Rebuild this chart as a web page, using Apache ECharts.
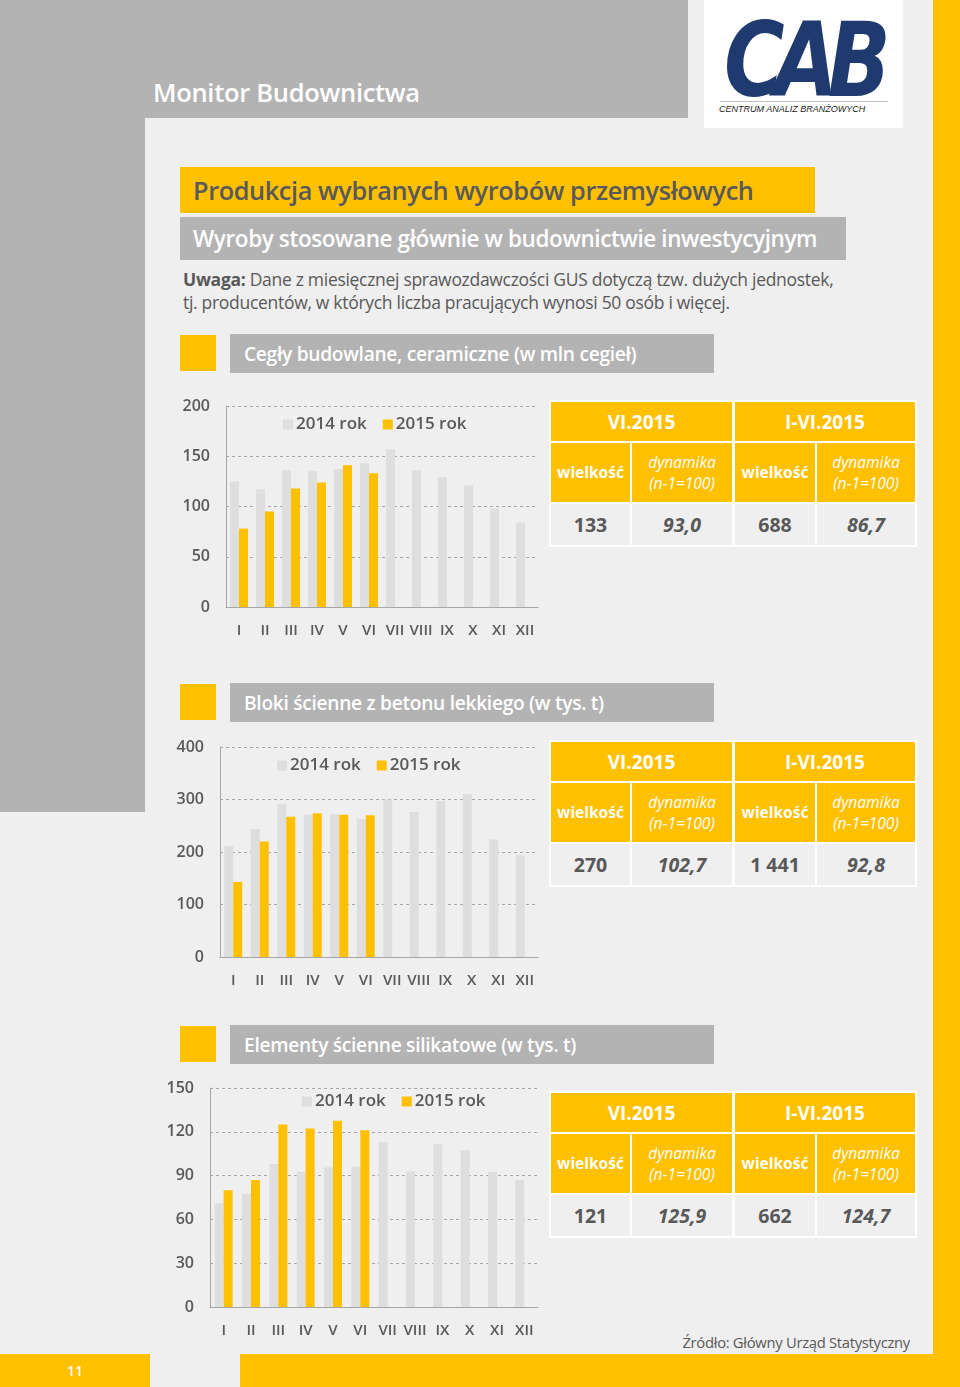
<!DOCTYPE html>
<html>
<head>
<meta charset="utf-8">
<script src="https://cdn.jsdelivr.net/npm/echarts@6/dist/echarts.min.js"></script>
<style>
  html, body { margin:0; padding:0; }
  body { width:960px; height:1387px; position:relative; background:#efefef; overflow:hidden;
         font-family:'Open Sans','Noto Sans',sans-serif; }
  .abs { position:absolute; }
  .cell { position:absolute; display:flex; align-items:center; justify-content:center; text-align:center; box-sizing:border-box; }
</style>
</head>
<body>
<div id="decor"></div>
<div id="chart" class="abs" style="left:0;top:0;width:960px;height:1387px;z-index:5;"></div>
<script>
// ---------- data ----------
const months = ['I','II','III','IV','V','VI','VII','VIII','IX','X','XI','XII'];
const seriesNames = ['2014 rok','2015 rok'];

const cegly2014 = [125, 117, 136, 135, 137, 143, 157, 136, 129, 121, 98, 84];
const cegly2015 = [78, 95, 118, 124, 141, 133, null, null, null, null, null, null];

const bloki2014 = [211, 244, 291, 271, 272, 263, 300, 276, 297, 310, 224, 194];
const bloki2015 = [143, 220, 267, 274, 271, 270, null, null, null, null, null, null];

const silik2014 = [71, 77.5, 98, 92.7, 95.5, 96, 113, 93, 111.4, 107.3, 92.3, 87];
const silik2015 = [80, 87, 125, 122.3, 127.5, 121, null, null, null, null, null, null];

const tableHeads = ['VI.2015','I-VI.2015'];
const tableCegly = ['133','93,0','688','86,7'];
const tableBloki = ['270','102,7','1 441','92,8'];
const tableSilik = ['121','125,9','662','124,7'];

const sectionTitles = ['Cegły budowlane, ceramiczne (w mln cegieł)',
                       'Bloki ścienne z betonu lekkiego (w tys. t)',
                       'Elementy ścienne silikatowe (w tys. t)'];

// ---------- decor (HTML) ----------
const YEL = '#ffc000', GRY = '#b3b3b3', TXT = '#595959';
const d = document.getElementById('decor');
function box(l,t,w,h,bg,html,style){
  const e=document.createElement('div'); e.className='abs';
  e.style.cssText=`left:${l}px;top:${t}px;width:${w}px;height:${h}px;background:${bg};`+(style||'');
  if(html!==undefined) e.innerHTML=html; d.appendChild(e); return e;
}
// backgrounds
box(0,0,688,118,GRY);
box(0,0,145,812,GRY);
box(933,0,27,1387,YEL);
box(0,1354,150,33,YEL,'11','color:#fff;font-size:14px;font-weight:600;display:flex;align-items:center;justify-content:center;');
box(240,1354,720,33,YEL);
box(153,75,420,36,'transparent','Monitor Budownictwa','color:#fff;font-size:25.5px;font-weight:600;letter-spacing:-0.3px;white-space:nowrap;');
// logo
box(704,0,199,128,'#fff');
box(724,6,200,100,'transparent','CAB','color:#1e3a6e;font-family:"DejaVu Sans";font-weight:bold;font-style:italic;font-size:96px;line-height:100px;letter-spacing:-12px;transform:scale(0.86,1.08);transform-origin:left top;white-space:nowrap;');
box(720,101,168,1,'#c0c0c0');
box(719,102,180,14,'transparent','CENTRUM ANALIZ BRANŻOWYCH','color:#222;font-family:"Liberation Sans";font-style:italic;font-size:9px;line-height:14px;white-space:nowrap;');
// titles
box(180,167,635,46,YEL,'Produkcja wybranych wyrobów przemysłowych','color:'+TXT+';font-size:25.3px;font-weight:600;line-height:46px;padding-left:13px;box-sizing:border-box;white-space:nowrap;letter-spacing:-0.4px;');
box(180,217,666,43,GRY,'Wyroby stosowane głównie w budownictwie inwestycyjnym','color:#fff;font-size:22.5px;font-weight:600;line-height:43px;padding-left:13px;box-sizing:border-box;white-space:nowrap;letter-spacing:-0.4px;');
box(183,268,720,50,'transparent','<b style="font-weight:700">Uwaga:</b> Dane z miesięcznej sprawozdawczości GUS dotyczą tzw. dużych jednostek,<br>tj. producentów, w których liczba pracujących wynosi 50 osób i więcej.','color:'+TXT+';font-size:17.5px;line-height:23px;white-space:nowrap;letter-spacing:-0.3px;');
// section headers
[[335,334],[684,683],[1026,1025]].forEach((p,i)=>{
  box(180,p[0],36,36,YEL);
  box(230,p[1],484,39,GRY,sectionTitles[i],'color:#fff;font-size:19.2px;font-weight:600;line-height:39px;padding-left:14px;box-sizing:border-box;white-space:nowrap;letter-spacing:-0.3px;');
});
// tables
function table(T, vals){
  box(549,T-2,368,147,'#fff');
  const h = (l,w,t,hh,bg,html,st)=>{ const e=box(l,t,w,hh,bg,html,st); e.className='cell'; return e; };
  h(551,181,T,39,YEL,tableHeads[0],'color:#fff;font-size:19px;font-weight:700;');
  h(735,180,T,39,YEL,tableHeads[1],'color:#fff;font-size:19px;font-weight:700;');
  const cols=[[551,79],[632,100],[735,80],[817,98]];
  cols.forEach((c,i)=>{
    const dyn = i%2===1;
    h(c[0],c[1],T+41,59,YEL, dyn?'dynamika<br>(n-1=100)':'wielkość',
      'color:#fff;font-size:15.5px;line-height:21px;'+(dyn?'font-style:italic;font-weight:400;':'font-weight:700;'));
    h(c[0],c[1],T+102,41,'#efefef',vals[i],'color:'+TXT+';font-size:19.5px;font-weight:700;'+(dyn?'font-style:italic;':''));
  });
}
table(402, tableCegly);
table(742, tableBloki);
table(1093, tableSilik);
box(650,1332,260,22,'transparent','Źródło: Główny Urząd Statystyczny','color:'+TXT+';font-size:14.8px;text-align:right;white-space:nowrap;letter-spacing:-0.3px;');

// ---------- chart ----------
const F = "'Open Sans','Noto Sans',sans-serif";
const grids = [
  {left:226, top:406, width:312, height:201, max:200, interval:50, legend:[278,411]},
  {left:220, top:747, width:318, height:210, max:400, interval:100, legend:[272,752]},
  {left:210, top:1088, width:328, height:219, max:150, interval:30, legend:[297,1088]}
];
const dataSets = [[cegly2014,cegly2015],[bloki2014,bloki2015],[silik2014,silik2015]];
const colors = ['#dedede', YEL];

const option = {
  animation:false,
  backgroundColor:'transparent',
  color: colors,
  textStyle:{fontFamily:F},
  legend: grids.map(g=>({
    left:g.legend[0], top:g.legend[1], itemWidth:10, itemHeight:10, itemGap:16,
    icon:'rect', data:seriesNames,
    textStyle:{color:TXT, fontSize:17, fontWeight:600, fontFamily:F, padding:[0,0,0,-2]}
  })),
  grid: grids.map(g=>({left:g.left, top:g.top, width:g.width, height:g.height})),
  xAxis: grids.map((g,i)=>({
    type:'category', gridIndex:i, data:months,
    axisLine:{lineStyle:{color:'#a6a6a6', width:1}},
    axisTick:{show:false},
    axisLabel:{color:TXT, fontSize:15, fontWeight:600, margin:16, interval:0, fontFamily:F}
  })),
  yAxis: grids.map((g,i)=>({
    type:'value', gridIndex:i, min:0, max:g.max, interval:g.interval,
    axisLine:{show:true, lineStyle:{color:'#a6a6a6', width:1}},
    axisTick:{show:false},
    splitLine:{show:true, lineStyle:{color:'#a6a6a6', type:[3,3], width:1}},
    axisLabel:{color:TXT, fontSize:16, fontWeight:600, margin:16, fontFamily:F}
  })),
  series: []
};
dataSets.forEach((ds,i)=>{
  ds.forEach((arr,j)=>{
    option.series.push({
      type:'bar', name:seriesNames[j], xAxisIndex:i, yAxisIndex:i,
      data:arr, barWidth:9, barGap:'0%',
      itemStyle:{color:colors[j]}
    });
  });
});
const chart = echarts.init(document.getElementById('chart'), null, {renderer:'canvas'});
chart.setOption(option);
</script>
</body>
</html>
